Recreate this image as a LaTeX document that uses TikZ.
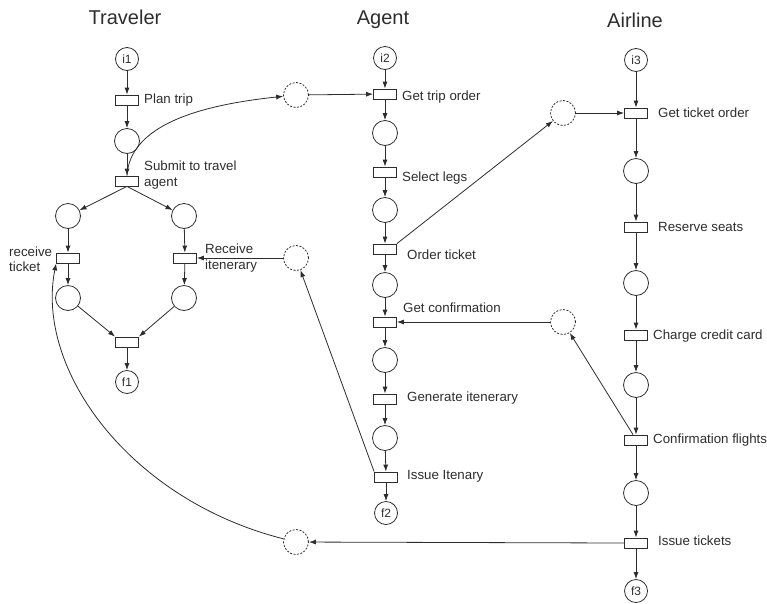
\documentclass[tikz,border=0pt]{standalone}
\usepackage{fontspec}
\setmainfont{Liberation Sans}
\usetikzlibrary{arrows.meta}
\definecolor{ink}{RGB}{45,45,45}
\begin{document}
\begin{tikzpicture}[x=1pt,y=-1pt,
  every node/.style={text=ink},
  line/.style={draw=ink,line width=0.8pt},
  arr/.style={line,-{Latex[length=7pt,width=5pt]}},
  place/.style={circle,draw=ink,line width=0.8pt,minimum size=25pt,inner sep=0pt},
  endpl/.style={circle,draw=ink,line width=0.8pt,minimum size=23pt,inner sep=0pt,font=\fontsize{12}{14}\selectfont},
  msg/.style={circle,draw=ink,line width=0.8pt,dashed,dash pattern=on 2pt off 1.5pt,minimum size=25pt,inner sep=0pt},
  trans/.style={rectangle,draw=ink,line width=0.8pt,minimum width=23pt,minimum height=10pt,inner sep=0pt},
  lbl/.style={anchor=west,inner sep=0pt,align=left,font=\fontsize{13.3}{15.5}\selectfont},
  ttl/.style={font=\fontsize{20}{24}\selectfont}]
\useasboundingbox (0,0) rectangle (767,603);
% titles
\node[ttl] (T1) at (125,17) {Traveler};
\node[ttl] (T2) at (383,20) {Agent};
\node[ttl] (T3) at (635,20) {Airline};
% Traveler
\node[endpl] (i1) at (127,59) {i1};
\node[trans] (t1) at (127,100) {};
\node[place] (p1) at (127,141) {};
\node[trans] (t2) at (127,181) {};
\node[place] (pL1) at (68,216) {};
\node[place] (pR1) at (184,216) {};
\node[trans] (tL) at (68,258) {};
\node[trans] (tR) at (185,258) {};
\node[place] (pL2) at (68,298) {};
\node[place] (pR2) at (184,298) {};
\node[trans] (t3) at (127,342) {};
\node[endpl] (f1) at (127,382) {f1};
\node[lbl] (lt1) at (144,100) {Plan trip};
\node[lbl] (lt2) at (144,175) {Submit to travel\\agent};
\node[lbl] (ltL) at (9,259) {receive\\ticket};
\node[lbl] (ltR) at (205,258) {Receive\\itenerary};
% Agent
\node[endpl] (i2) at (385,58) {i2};
\node[trans] (a1) at (385,94) {};
\node[place] (ap1) at (385,133) {};
\node[trans] (a2) at (385,172) {};
\node[place] (ap2) at (385,210) {};
\node[trans] (a3) at (385,249) {};
\node[place] (ap3) at (385,285) {};
\node[trans] (a4) at (385,322) {};
\node[place] (ap4) at (385,360) {};
\node[trans] (a5) at (385,399) {};
\node[place] (ap5) at (385,438) {};
\node[trans] (a6) at (386,477) {};
\node[endpl] (f2) at (386,513) {f2};
\node[lbl] (la1) at (402,97) {Get trip order};
\node[lbl] (la2) at (402,178) {Select legs};
\node[lbl] (la3) at (407,255) {Order ticket};
\node[lbl] (la4) at (403,308) {Get confirmation};
\node[lbl] (la5) at (407,398) {Generate itenerary};
\node[lbl] (la6) at (407,476) {Issue Itenary};
% Airline
\node[endpl] (i3) at (636,60) {i3};
\node[trans] (b1) at (636,113) {};
\node[place] (bp1) at (636,171) {};
\node[trans] (b2) at (636,227) {};
\node[place] (bp2) at (636,283) {};
\node[trans] (b3) at (636,335) {};
\node[place] (bp3) at (636,385) {};
\node[trans] (b4) at (636,440) {};
\node[place] (bp4) at (636,493) {};
\node[trans] (b5) at (636,543) {};
\node[endpl] (f3) at (636,591) {f3};
\node[lbl] (lb1) at (658,113) {Get ticket order};
\node[lbl] (lb2) at (658,227) {Reserve seats};
\node[lbl] (lb3) at (653,336) {Charge credit card};
\node[lbl] (lb4) at (653,440) {Confirmation flights};
\node[lbl] (lb5) at (658,541) {Issue tickets};
% message places
\node[msg] (m1) at (296,95) {};
\node[msg] (m2) at (296,258) {};
\node[msg] (m3) at (563,113) {};
\node[msg] (m4) at (563,322) {};
\node[msg] (m5) at (296,542) {};
% Traveler arcs
\draw[arr] (i1) -- (t1);
\draw[arr] (t1) -- (p1);
\draw[arr] (p1) -- (t2);
\draw[arr] (t2.south) -- (pL1);
\draw[arr] (t2.south) -- (pR1);
\draw[arr] (pL1) -- (tL);
\draw[arr] (pR1) -- (tR);
\draw[arr] (tL) -- (pL2);
\draw[arr] (tR) -- (pR2);
\draw[arr] (pL2) -- (t3.north west);
\draw[arr] (pR2) -- (t3.north east);
\draw[arr] (t3) -- (f1);
% Agent arcs
\draw[arr] (i2) -- (a1);
\draw[arr] (a1) -- (ap1);
\draw[arr] (ap1) -- (a2);
\draw[arr] (a2) -- (ap2);
\draw[arr] (ap2) -- (a3);
\draw[arr] (a3) -- (ap3);
\draw[arr] (ap3) -- (a4);
\draw[arr] (a4) -- (ap4);
\draw[arr] (ap4) -- (a5);
\draw[arr] (a5) -- (ap5);
\draw[arr] (ap5) -- (a6);
\draw[arr] (a6) -- (f2);
% Airline arcs
\draw[arr] (i3) -- (b1);
\draw[arr] (b1) -- (bp1);
\draw[arr] (bp1) -- (b2);
\draw[arr] (b2) -- (bp2);
\draw[arr] (bp2) -- (b3);
\draw[arr] (b3) -- (bp3);
\draw[arr] (bp3) -- (b4);
\draw[arr] (b4) -- (bp4);
\draw[arr] (bp4) -- (b5);
\draw[arr] (b5) -- (f3);
% message arcs
\draw[arr] (t2.north) .. controls (130,125) and (200,105) .. (m1);
\draw[arr] (m1) -- (a1);
\draw[arr] (a3.north east) -- (m3);
\draw[arr] (m3) -- (b1);
\draw[arr] (a6.north west) -- (m2);
\draw[arr] (m2) -- (tR);
\draw[arr] ([xshift=-3pt]b4.north) -- (m4);
\draw[arr] (m4) -- (a4);
\draw[arr] (b5.west) -- (m5);
\draw[arr] (m5) .. controls (130,500) and (35,370) .. (tL.south west);
\end{tikzpicture}
\end{document}
